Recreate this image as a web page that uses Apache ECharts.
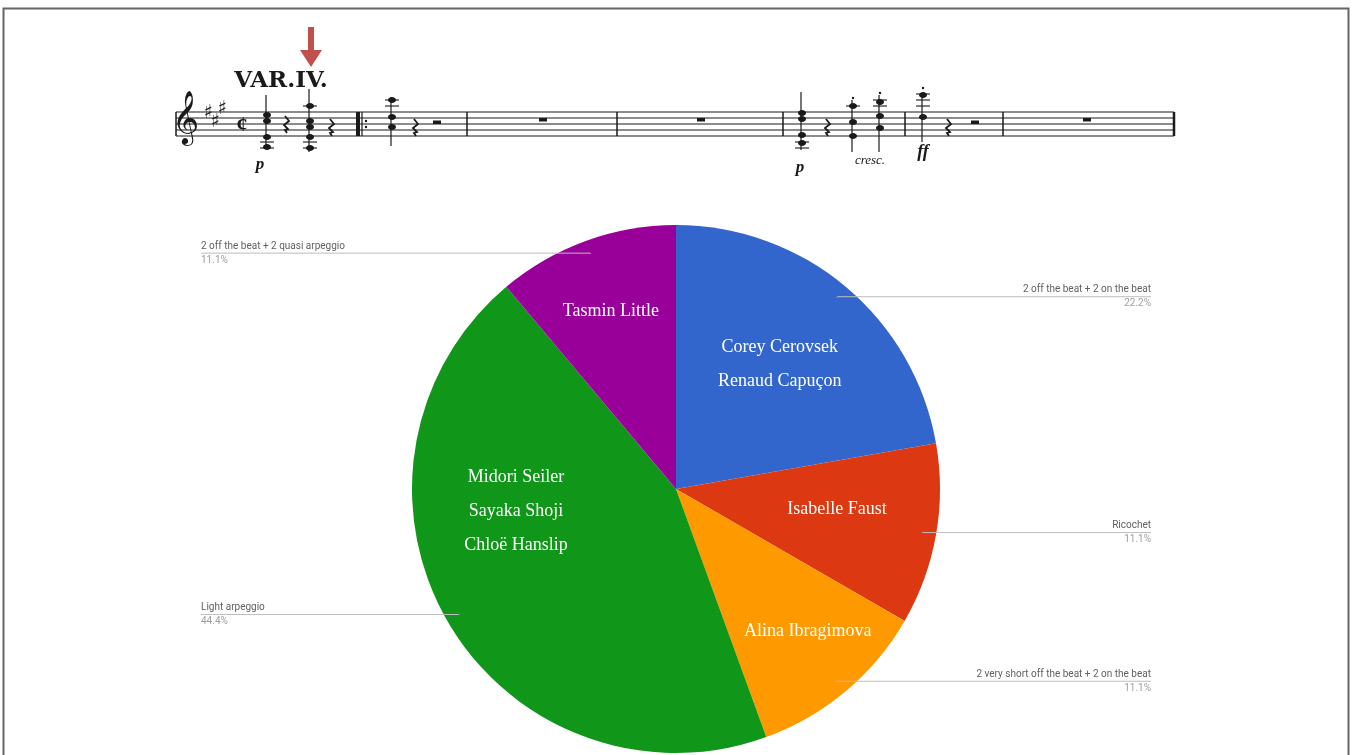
<!DOCTYPE html>
<html><head><meta charset="utf-8">
<script src="https://cdn.jsdelivr.net/npm/echarts@6/dist/echarts.min.js"></script>
<style>html,body{margin:0;padding:0;background:#fff}#c{width:1352px;height:755px}</style>
</head><body><div id="c"></div>
<script>
// ---- data ----
const categories = ['2 off the beat + 2 on the beat', 'Ricochet', '2 very short off the beat + 2 on the beat', 'Light arpeggio', '2 off the beat + 2 quasi arpeggio'];
const values = [2, 1, 1, 4, 1];
const performers = [['Corey Cerovsek', 'Renaud Capuçon'], ['Isabelle Faust'], ['Alina Ibragimova'], ['Midori Seiler', 'Sayaka Shoji', 'Chloë Hanslip'], ['Tasmin Little']];
const sliceColors = ['#3366cc', '#dc3912', '#ff9900', '#109618', '#990099'];

const total = values.reduce((a, b) => a + b, 0);
const pieData = categories.map((c, i) => ({ name: c, value: values[i], itemStyle: { color: sliceColors[i] } }));
const ghostData = categories.map((c, i) => ({ name: c, value: values[i] }));
// label nudges (layout only)
const innerShift = [[17, -21], [28, -3], [45, 39], [-43, -45], [-19, -51]];

// ---- decorative music excerpt (graphic) ----
const INK = '#1a1a1a';
const g = [];
function L(x1, y1, x2, y2, w) { g.push({ type: 'line', silent: true, shape: { x1, y1, x2, y2 }, style: { stroke: INK, lineWidth: w || 1.2 } }); }
function N(cx, cy) { g.push({ type: 'ellipse', silent: true, shape: { cx, cy, rx: 4, ry: 3 }, style: { fill: INK } }); }
function D(cx, cy) { g.push({ type: 'circle', silent: true, shape: { cx, cy, r: 1.2 }, style: { fill: INK } }); }
function T(text, x, y, font, align) { g.push({ type: 'text', silent: true, style: { text, x, y, font, fill: INK, textAlign: align || 'center', textVerticalAlign: 'middle' } }); }
function QR(x, y) { g.push({ type: 'polyline', silent: true, shape: { points: [[x - 1, y - 8], [x + 3, y - 3], [x - 2, y + 1], [x + 2, y + 5], [x - 1, y + 6], [x + 1, y + 9]] }, style: { stroke: INK, lineWidth: 1.8, fill: null } }); }
function RR(x, y) { g.push({ type: 'rect', silent: true, shape: { x: x - 4, y: y, width: 8, height: 3.5 }, style: { fill: INK } }); }
function LED(x, ys) { ys.forEach(y => L(x - 7, y, x + 7, y, 1.1)); }

const staffY = [112, 118, 124, 130, 136];
staffY.forEach(y => L(176, y, 1174, y, 1.2));
[176, 467, 617, 783, 905, 1003].forEach(x => L(x, 112, x, 136, 1.5));
L(1174, 112, 1174, 136, 2.5);
// repeat
g.push({ type: 'rect', silent: true, shape: { x: 356, y: 112, width: 4, height: 24 }, style: { fill: INK } });
L(362, 112, 362, 136, 1.2); D(366, 121); D(366, 127);
// clef, key, time
T('\uD834\uDD1E', 185, 121, '46px "DejaVu Sans"');
T('\u266F', 208, 113, 'bold 19px "DejaVu Sans"'); T('\u266F', 215, 122, 'bold 19px "DejaVu Sans"'); T('\u266F', 222, 109, 'bold 19px "DejaVu Sans"');
T('\u00A2', 242, 125, 'bold 22px "Liberation Serif"');
// chords
L(266, 95, 266, 148, 1.2); N(267, 115); N(267, 121); N(267, 137); N(267, 147); LED(267, [142, 148]);
QR(286, 124);
L(309, 89, 309, 152, 1.2); N(310, 106); N(310, 121); N(310, 127); N(310, 137); N(310, 148); LED(310, [106, 142, 148]);
QR(331, 127);
L(391, 97, 391, 146, 1.2); N(392, 100); N(392, 117); N(392, 127); LED(392, [100, 106]);
QR(415, 127); RR(437, 120.5);
RR(543, 118); RR(701, 118);
L(801, 92, 801, 150, 1.2); N(802, 113); N(802, 119); N(802, 135); N(802, 143); LED(802, [142, 148]);
QR(827, 127);
L(852, 100, 852, 152, 1.2); D(853, 98); N(853, 106); N(853, 122); N(853, 136); LED(853, [106]);
L(879, 95, 879, 152, 1.2); D(880, 93); N(880, 102); N(880, 116); N(880, 128); LED(880, [100, 106]);
L(922, 95, 922, 142, 1.2); D(923, 88); N(923, 95); N(923, 117); LED(923, [94, 100, 106]);
QR(948, 127); RR(975, 120.5);
RR(1087, 118);
// dynamics
T('p', 260, 165, 'italic bold 17px "Liberation Serif"');
T('p', 800, 168, 'italic bold 17px "Liberation Serif"');
T('cresc.', 870, 161, 'italic 13px "Liberation Serif"');
T('ff', 923, 152, 'italic bold 18px "Liberation Serif"');
// title
T('VAR.IV.', 281, 81, 'bold 23px "DejaVu Serif"');
// red arrow
g.push({ type: 'polygon', silent: true, shape: { points: [[308, 27], [314, 27], [314, 50], [322, 50], [311, 67], [300, 50], [308, 50]] }, style: { fill: '#c0504d' } });
// frame
g.push({ type: 'rect', silent: true, shape: { x: 3.5, y: 8.5, width: 1345, height: 800 }, style: { fill: null, stroke: '#666', lineWidth: 2 } });

const chart = echarts.init(document.getElementById('c'), null, { renderer: 'canvas' });
chart.setOption({
  animation: false,
  backgroundColor: '#ffffff',
  graphic: { elements: g },
  series: [
    {
      type: 'pie',
      z: 2,
      center: [676, 489],
      radius: [0, 264],
      startAngle: 90,
      clockwise: true,
      silent: true,
      data: pieData,
      itemStyle: { borderWidth: 0 },
      label: {
        position: 'inside',
        formatter: p => performers[p.dataIndex].join('\n'),
        color: '#ffffff',
        fontFamily: '"Liberation Serif", "Times New Roman", serif',
        fontSize: 18,
        lineHeight: 34
      },
      labelLine: { show: false },
      labelLayout: p => ({ dx: innerShift[p.dataIndex][0], dy: innerShift[p.dataIndex][1] })
    },
    {
      type: 'pie',
      z: 5,
      center: [676, 489],
      radius: [0, 250],
      startAngle: 90,
      clockwise: true,
      silent: true,
      data: ghostData,
      itemStyle: { color: 'rgba(0,0,0,0)', borderWidth: 0 },
      label: {
        position: 'outer',
        alignTo: 'edge',
        edgeDistance: 201,
        formatter: p => '{n|' + p.name + '}\n{p|' + (p.value / total * 100).toFixed(1) + '%}',
        rich: {
          n: { fontFamily: 'Roboto', fontSize: 10, color: '#616161', lineHeight: 14 },
          p: { fontFamily: 'Roboto', fontSize: 10, color: '#9e9e9e', lineHeight: 14 }
        }
      },
      labelLine: { show: true, length: 1, length2: 0, lineStyle: { color: '#bdbdbd', width: 1 } },
      labelLayout: function (params) {
        const isLeft = params.labelRect.x < 676;
        const pts = params.labelLinePoints;
        if (!pts) return {};
        pts[2][0] = isLeft ? params.labelRect.x : params.labelRect.x + params.labelRect.width;
        return { labelLinePoints: pts };
      }
    }
  ]
});
</script></body></html>
